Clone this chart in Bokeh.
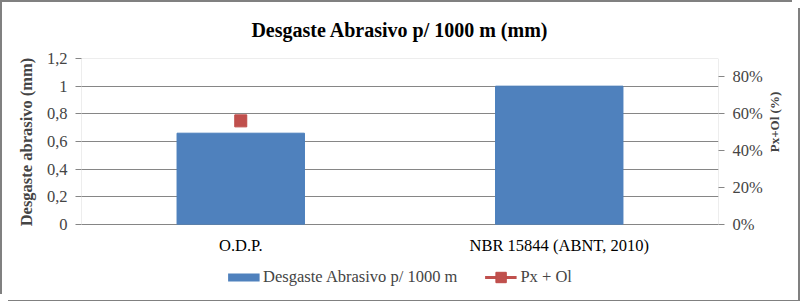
import math
from bokeh.plotting import figure
from bokeh.models import (Range1d, LinearAxis, FixedTicker, NumeralTickFormatter,
                          CustomJSTickFormatter, Legend, LegendItem, BoxAnnotation)
from bokeh.core.properties import value
from bokeh.embed import file_html
from bokeh.resources import INLINE

categories = ["O.D.P.", "NBR 15844 (ABNT, 2010)"]
desgaste = [0.66, 1.0]
px_ol_cat = ["O.D.P."]
px_ol = [0.56]
left_ticks = [0, 0.2, 0.4, 0.6, 0.8, 1.0, 1.2]
right_ticks = [0, 0.2, 0.4, 0.6, 0.8]
legend_labels = ["Desgaste Abrasivo p/ 1000 m", "Px + Ol"]

FONT = "Liberation Serif"
GRID = "#868686"
BLUE = "#4F81BD"
RED = "#C0504D"
CAT_LABEL_Y = -0.08   # position of the category labels below the zero line

# frame extends below the zero line to hold the category labels and the legend
p = figure(x_range=categories, y_range=Range1d(-0.4843, 1.2),
           frame_width=637, frame_height=233,
           output_backend="svg", toolbar_location=None,
           min_border_left=81, min_border_right=74, min_border_top=57, min_border_bottom=3)
p.extra_y_ranges = {"pct": Range1d(-0.362, 0.897)}
p.border_fill_color = None
p.background_fill_color = "#ffffff"
p.styles = {"background-color": "#ffffff",
            "box-shadow": "inset 2px 2px 0 0 #808080, 6px 6px 0 0 #ffffff, 8px 8px 0 0 #808080"}

p.title.text = "Desgaste Abrasivo p/ 1000 m (mm)"
p.title.align = "center"
p.title.vertical_align = "middle"
p.title.text_font = FONT
p.title.text_font_size = "20px"
p.title.text_font_style = "bold"
p.title.text_color = "#000000"
p.title.standoff = 34

p.outline_line_color = None
p.xgrid.grid_line_color = None
p.ygrid.grid_line_color = GRID
p.ygrid.ticker = FixedTicker(ticks=left_ticks)
p.xaxis.visible = False

# plot-area box: left/right axis lines, zero line and top line
p.add_layout(BoxAnnotation(left=0, right=len(categories), bottom=left_ticks[0], top=left_ticks[-1],
                           fill_color=None, fill_alpha=0, line_color=GRID, line_width=1))

bars = p.vbar(x=categories, top=desgaste, width=0.4, fill_color=BLUE, line_color="#4A7EBB")
leg_blue = p.line(x=categories[:1], y=desgaste[:1], line_color=BLUE, line_width=8)
line = p.line(x=px_ol_cat, y=px_ol, y_range_name="pct", line_color=RED, line_width=3)
mark = p.scatter(x=px_ol_cat, y=px_ol, y_range_name="pct", marker="square", size=12,
                 fill_color=RED, line_color="#BE4B48")

# category labels
p.text(x=categories, y=[CAT_LABEL_Y] * len(categories), text=categories,
       text_align="center", text_baseline="top", text_font=value(FONT),
       text_font_size="16.5px", text_color="#000000")

# left axis
ya = p.yaxis[0]
ya.ticker = FixedTicker(ticks=left_ticks)
ya.formatter = CustomJSTickFormatter(code="return (Math.round(tick*10)/10).toString().replace('.', ',');")
ya.axis_label = "\u00a0" * 16 + "Desgaste abrasivo (mm)"
ya.axis_label_text_font = FONT
ya.axis_label_text_font_style = "bold"
ya.axis_label_text_font_size = "16.5px"
ya.axis_label_standoff = 8
ya.major_label_text_font = FONT
ya.major_label_text_font_size = "16.5px"
ya.major_label_standoff = 8
ya.axis_line_color = None
ya.major_tick_line_color = GRID
ya.major_tick_out = 6
ya.major_tick_in = 0
ya.minor_tick_line_color = None

# right axis
ra = LinearAxis(y_range_name="pct", ticker=FixedTicker(ticks=right_ticks),
                formatter=NumeralTickFormatter(format="0%"))
ra.axis_label = "\u00a0" * 7 + "Px+Ol (%)"
ra.axis_label_orientation = math.pi / 2
ra.axis_label_text_font = FONT
ra.axis_label_text_font_style = "bold"
ra.axis_label_text_font_size = "13px"
ra.axis_label_standoff = 9
ra.major_label_text_font = FONT
ra.major_label_text_font_size = "16.5px"
ra.major_label_standoff = 8
ra.axis_line_color = None
ra.major_tick_line_color = GRID
ra.major_tick_out = 6
ra.major_tick_in = 0
ra.minor_tick_line_color = None
p.add_layout(ra, "right")

legend = Legend(items=[LegendItem(label=legend_labels[0], renderers=[leg_blue]),
                       LegendItem(label=legend_labels[1], renderers=[line, mark])],
                location="bottom_center", orientation="horizontal",
                padding=0, margin=1,
                glyph_width=32, glyph_height=26, label_standoff=4, spacing=27,
                label_text_font=FONT, label_text_font_size="16.5px",
                border_line_color=None, background_fill_alpha=0)
p.add_layout(legend, "center")

open("out.html", "w").write(file_html(p, INLINE))
